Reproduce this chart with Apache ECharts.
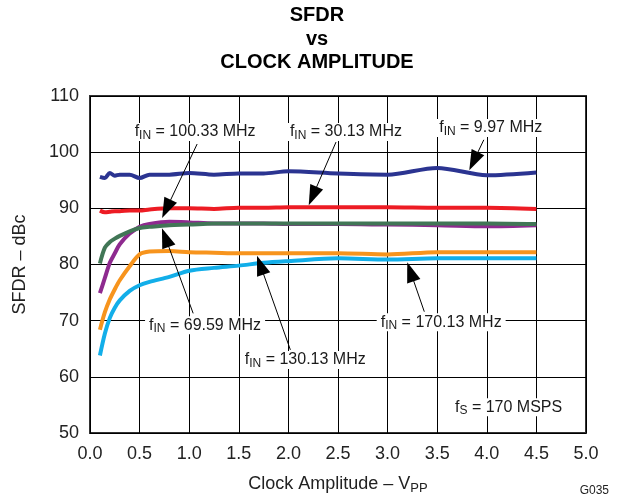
<!DOCTYPE html>
<html>
<head>
<meta charset="utf-8">
<script src="https://cdn.jsdelivr.net/npm/echarts@6/dist/echarts.min.js"></script>
<style>
    html, body { margin: 0; padding: 0; background: #fff; }
    #chart { width: 619px; height: 501px; }
</style>
</head>
<body>
<div id="chart"></div>
<script>
// clock amplitude (Vpp) sample points
const clk = [0.1, 0.15, 0.2, 0.25, 0.3, 0.4, 0.5, 0.6, 0.8, 1.0, 1.25, 1.5, 1.75, 2.0, 2.5, 3.0, 3.5, 4.0, 4.5];
// SFDR (dBc) per input frequency
const f9_97   = [95.6, 95.4, 96.3, 95.8, 96.0, 96.0, 95.4, 96.0, 96.0, 96.3, 96.0, 96.2, 96.2, 96.6, 96.2, 96.0, 97.2, 95.9, 96.4];
const f30_13  = [89.6, 89.3, 89.4, 89.5, 89.5, 89.6, 89.6, 89.8, 90.0, 90.0, 89.9, 90.1, 90.1, 90.2, 90.2, 90.2, 90.1, 90.1, 89.9];
const f100_33 = [74.9, 77.6, 80.3, 82.0, 83.6, 85.5, 86.7, 87.2, 87.6, 87.5, 87.3, 87.3, 87.3, 87.2, 87.2, 87.1, 87.0, 86.8, 87.0];
const f69_59  = [80.2, 83.0, 84.0, 84.6, 85.1, 85.9, 86.5, 86.7, 87.0, 87.1, 87.3, 87.3, 87.3, 87.3, 87.3, 87.3, 87.3, 87.3, 87.2];
const f130_13 = [68.4, 71.5, 73.8, 75.6, 77.2, 79.7, 81.8, 82.3, 82.4, 82.2, 82.1, 82.0, 82.0, 82.0, 82.0, 81.8, 82.2, 82.2, 82.2];
const f170_13 = [63.8, 67.7, 70.5, 72.3, 73.6, 75.3, 76.3, 76.9, 77.8, 78.9, 79.4, 79.8, 80.3, 80.6, 81.1, 80.9, 81.1, 81.1, 81.1];

const xTicks = [0, 0.5, 1, 1.5, 2, 2.5, 3, 3.5, 4, 4.5, 5];
const yTicks = [50, 60, 70, 80, 90, 100, 110];

// annotation text and where it sits (data coords)
const noteText = ['100.33', '30.13', '9.97', '69.59', '130.13', '170.13'];
const notePos = [[1.06, 103.6], [2.58, 103.6], [4.04, 104.3], [1.16, 69.2], [2.17, 63.0], [3.54, 69.7]];
// arrows: [tail, head centre]
const arrows = [
    [[1.08, 101.45], [0.77, 89.9]],
    [[2.48, 101.8], [2.245, 92.2]],
    [[3.97, 102.2], [3.867, 98.4]],
    [[1.04, 71.3], [0.76, 84.8]],
    [[2.02, 64.8], [1.717, 79.9]],
    [[3.37, 71.6], [3.231, 78.7]]
];

const font = 'Liberation Sans, Arial, sans-serif';
const chart = echarts.init(document.getElementById('chart'));

function pairs(ys) {
    return clk.map((x, i) => [x, ys[i]]);
}

function curve(name, ys, color) {
    return {
        name: name,
        type: 'line',
        data: pairs(ys),
        smooth: 0.3,
        symbol: 'none',
        lineStyle: { color: color, width: 4 },
        silent: true,
        z: 3
    };
}

const noteRich = {
    m: { fontFamily: font, fontSize: 16, color: '#1a1a1a', lineHeight: 18 },
    s: { fontFamily: font, fontSize: 12, color: '#1a1a1a', lineHeight: 18, padding: [7, 0, 0, 0] }
};

chart.setOption({
    animation: false,
    backgroundColor: '#fff',
    graphic: [
        {
            type: 'text', x: 317, y: 4,
            style: {
                text: 'SFDR\nvs\nCLOCK AMPLITUDE', align: 'center',
                font: 'bold 20px ' + font, fill: '#000', lineHeight: 23.5
            }
        },
        {
            type: 'text', right: 10, bottom: 4,
            style: { text: 'G035', font: '12px ' + font, fill: '#222' }
        }
    ],
    grid: {
        left: 90, right: 33, top: 96, bottom: 68,
        show: true, borderColor: '#333', borderWidth: 2
    },
    xAxis: {
        type: 'value', min: 0, max: 5, interval: 0.5,
        name: '{m|Clock Amplitude – V}{s|PP}',
        nameLocation: 'middle', nameGap: 41,
        nameTextStyle: {
            rich: {
                m: { fontFamily: font, fontSize: 18, color: '#222', lineHeight: 20 },
                s: { fontFamily: font, fontSize: 13, color: '#222', lineHeight: 20, padding: [8, 0, 0, 0] }
            }
        },
        axisLine: { show: false },
        axisTick: { show: false },
        axisLabel: {
            margin: 12, fontFamily: font, fontSize: 18, color: '#222',
            formatter: v => v.toFixed(1)
        },
        splitLine: { show: true, lineStyle: { color: '#000', width: 1 } }
    },
    yAxis: {
        type: 'value', min: yTicks[0], max: yTicks[yTicks.length - 1], interval: 10,
        name: 'SFDR – dBc',
        nameLocation: 'middle', nameGap: 61,
        nameTextStyle: { fontFamily: font, fontSize: 18, color: '#222' },
        axisLine: { show: false },
        axisTick: { show: false },
        axisLabel: { margin: 11, fontFamily: font, fontSize: 18, color: '#222' },
        splitLine: { show: true, lineStyle: { color: '#000', width: 1 } }
    },
    series: [
        curve('9.97 MHz', f9_97, '#2b3491'),
        curve('30.13 MHz', f30_13, '#ed1c24'),
        curve('100.33 MHz', f100_33, '#8e2a8f'),
        curve('69.59 MHz', f69_59, '#417656'),
        curve('130.13 MHz', f130_13, '#f7941d'),
        curve('170.13 MHz', f170_13, '#12aee9'),
        {
            // arrows
            type: 'line', data: [], silent: true, z: 4,
            markLine: {
                silent: true, animation: false,
                symbol: ['none', 'triangle'], symbolSize: 16,
                label: { show: false },
                lineStyle: { color: '#000', width: 1, type: 'solid' },
                itemStyle: { color: '#000' },
                data: arrows.map(a => [
                    { coord: a[0], symbol: 'none' },
                    { coord: a[1], symbol: 'triangle', symbolSize: [14, 20] }
                ])
            }
        },
        {
            // labels
            type: 'scatter', silent: true, z: 5,
            symbolSize: 0,
            data: notePos.map((p, i) => [p[0], p[1], i]).concat([[4.22, 54.6, -1]]),
            label: {
                show: true, position: 'inside',
                color: '#1a1a1a', textBorderWidth: 0, opacity: 1,
                backgroundColor: '#fff', padding: [0, 4],
                formatter: p => p.value[2] < 0
                    ? '{m|f}{s|S}{m| = 170 MSPS}'
                    : '{m|f}{s|IN}{m| = ' + noteText[p.value[2]] + ' MHz}',
                rich: noteRich
            }
        }
    ]
});
</script>
</body>
</html>
